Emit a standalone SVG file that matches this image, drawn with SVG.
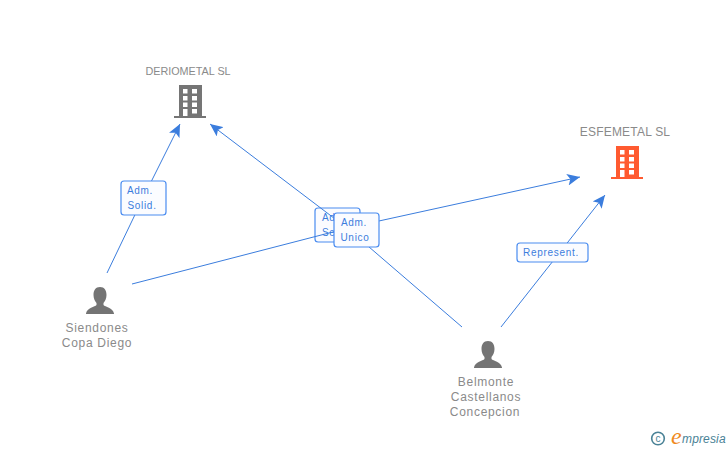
<svg xmlns="http://www.w3.org/2000/svg" width="728" height="450" viewBox="0 0 728 450">
<defs>
<marker id="arrow" markerUnits="userSpaceOnUse" markerWidth="14" markerHeight="12" refX="11" refY="5" orient="auto" viewBox="0 0 12 10"><path d="M0,0 L11,5 L0,10 L2.5,5 Z" fill="#3b7ddd"/></marker>
<g id="bld"><path d="M5,0 H28 V31 H32 V33 H0 V31 H5 Z M9,4 V8.5 H13.5 V4 Z M18,4 V8.5 H23 V4 Z M9,11 V15.5 H13.5 V11 Z M18,11 V15.5 H23 V11 Z M9,17.5 V22 H13.5 V17.5 Z M18,17.5 V22 H23 V17.5 Z M18,24 V28.5 H23 V24 Z M9,24 V31 H13.5 V24 Z" fill-rule="evenodd"/></g>
<path id="person" d="M14,0 C18.5,0 20.5,3.5 20.5,8 C20.5,11.5 19,14.5 17.5,16 V18 C19,20 27,20.5 28,26.5 V27 H0 V26.5 C1,20.5 9,20 10.5,18 V16 C9,14.5 7.5,11.5 7.5,8 C7.5,3.5 9.5,0 14,0 Z" fill="#747474"/>
</defs>
<style>
text{font-family:"Liberation Sans",Arial,sans-serif}
.n{font-size:12px;fill:#8a8a8a;text-anchor:middle;letter-spacing:.7px}
.t{font-size:10.8px;fill:#8a8a8a;text-anchor:middle}
.e{font-size:12px;fill:#8a8a8a;text-anchor:middle;letter-spacing:.2px}
.l{font-size:10px;fill:#3b7ddd;text-anchor:middle;letter-spacing:.7px}
.s{font-size:10px;fill:#3b7ddd;letter-spacing:.7px}
.b{fill:#fbfcff;stroke:#4a8cf0;stroke-width:1.2}
.c{stroke:#3b7ddd;stroke-width:1;fill:none}
</style>
<g id="label-sec"><rect class="b" x="315" y="208" width="45" height="34" rx="3"/><text class="s" x="322" y="221">Ad</text><text class="s" x="322" y="236">Se</text></g>
<g id="connectors">
<polyline class="c" points="107,273 143,198 180,124" marker-end="url(#arrow)"/>
<polyline class="c" points="462,327 347,228 210,124" marker-end="url(#arrow)"/>
<polyline class="c" points="132,284 356,226 580,177" marker-end="url(#arrow)"/>
<polyline class="c" points="501,327 553,261 605,195" marker-end="url(#arrow)"/>
</g>
<g id="deriometal"><text class="t" x="188" y="75">DERIOMETAL SL</text><use href="#bld" x="174" y="85" fill="#757575"/></g>
<g id="esfemetal"><text class="e" x="625" y="136">ESFEMETAL SL</text><use href="#bld" x="611" y="146" fill="#ff5a30"/></g>
<g id="siendones"><use href="#person" x="86" y="287"/><text class="n" x="97" y="332">Siendones</text><text class="n" x="97" y="347">Copa Diego</text></g>
<g id="belmonte"><use href="#person" x="474" y="341"/><text class="n" x="486" y="386">Belmonte</text><text class="n" x="486" y="401">Castellanos</text><text class="n" x="485" y="416">Concepcion</text></g>
<g id="label-solid"><rect class="b" x="121" y="181" width="45" height="34" rx="3"/><text class="l" x="140" y="194">Adm.</text><text class="l" x="142" y="209">Solid.</text></g>
<g id="label-unico"><rect class="b" x="334" y="213" width="45" height="34" rx="3"/><text class="l" x="354" y="226">Adm.</text><text class="l" x="355" y="241">Unico</text></g>
<g id="label-represent"><rect class="b" x="517" y="243" width="71" height="19" rx="3"/><text class="l" x="551" y="256">Represent.</text></g>
<g id="brand"><circle cx="658" cy="438.500" r="6.300" fill="none" stroke="#4a8296" stroke-width="1.600"/><text x="658" y="442" font-size="10" fill="#4a8296" text-anchor="middle">c</text><text x="671" y="444" font-size="24" font-style="italic" fill="#f08a1d" style="font-family:'Liberation Serif',serif">e</text><text x="682" y="443" font-size="12" font-style="italic" fill="#4a8296" letter-spacing=".15">mpresia</text></g>
</svg>
